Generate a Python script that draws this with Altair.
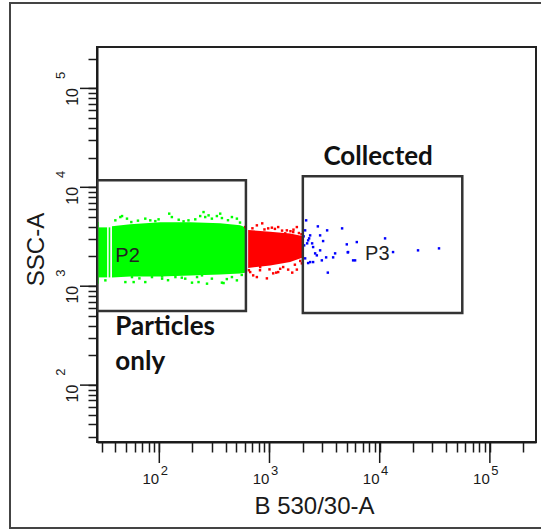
import altair as alt
import pandas as pd

# ---------------- axis / tick values ----------------
tick_values = [30, 40, 50, 60, 70, 80, 90,
               100, 200, 300, 400, 500, 600, 700, 800, 900,
               1000, 2000, 3000, 4000, 5000, 6000, 7000, 8000, 9000,
               10000, 20000, 30000, 40000, 50000, 60000, 70000, 80000, 90000,
               100000, 200000]
major_values = [100, 1000, 10000, 100000]
major_base = "10"
major_exponents = ["2", "3", "4", "5"]

x_domain = [27.2, 262144]
y_domain = [26.6, 262144]

# ---------------- dense cores (P2 green band, red band) ----------------
green_seg = ["a", "a", "b", "b", "c", "c",
             "d", "d", "d", "d", "d", "d", "d"]
green_x = [27.2, 28.1, 28.1, 33.6, 34.7, 35.9,
           37.2, 54.6, 102, 191, 357, 542, 601]
green_top = [4454, 4454, 3935, 3935, 3935, 3935,
             4027, 4220, 4422, 4422, 4320, 4124, 3935]
green_bot = [1061, 1061, 1228, 1228, 1228, 1228,
             1228, 1251, 1251, 1280, 1310, 1341, 1372]

red_x = [640, 1014, 1540, 2033]
red_top = [3700, 3560, 3420, 3192]
red_bot = [1530, 1620, 1760, 1957]

# ---------------- scattered events ----------------
green_pts_x = [44.3, 50.9, 74.6, 82.8, 98.5, 130, 166, 212, 252, 261, 280, 300,
               357, 370, 456, 506, 39.9, 55.7, 184, 45.9, 123, 235, 333,
               32.4, 41.3, 56.5, 74.6, 85.8, 106, 140, 172, 198, 220, 244, 300,
               370, 456, 506, 49.2, 271, 58.5, 227, 383, 106,
               64, 92, 150, 420, 540, 66, 120, 160, 410, 560]
green_pts_y = [5002, 4820, 4820, 4634, 4743, 5002, 4527, 4743, 5620, 5002, 5205, 4820,
               5415, 4887, 5002, 4820, 4634, 4454, 4634, 5120, 5415, 5120, 5120,
               1146, 1287, 1237, 1101, 1237, 1192, 1237, 1192, 1086, 1237, 1287, 1192,
               1086, 1237, 1146, 1101, 1061, 1101, 1101, 1076, 1258,
               4600, 4550, 4700, 4650, 4400, 1200, 1150, 1220, 1180, 1300]

red_pts_x = [768, 973, 1199, 1437, 1771, 668, 947, 711, 1199, 1477, 1771, 1080,
             823, 1966, 1331, 1641, 1389, 602, 859, 1150, 1608, 1051, 1650, 768,
             700, 900, 1120, 1300, 1550, 1850, 1950, 650, 820, 1000, 1250, 1700, 1900]
red_pts_y = [4124, 3844, 3963, 3670, 3963, 1390, 1200, 1287, 1390, 1472, 1472, 1349,
             1562, 1702, 1562, 3527, 3422, 3963, 4320, 1372, 1372, 3908, 3730, 1237,
             3850, 3750, 3800, 3650, 3600, 3450, 3350, 1450, 1450, 1480, 1500, 1650, 1800]

blue_pts_x = [2151, 2747, 3334, 4559, 5029, 6199, 11190, 13220, 22280, 34540,
              5135, 5981, 3780, 3940, 3383, 3266, 2880, 2596, 2338, 3066,
              2242, 2488, 2338, 2106, 2880, 2985, 2689, 2106, 2488, 2242,
              5739, 5167, 2196, 2289, 2063, 2437, 2041]
blue_pts_y = [4633, 4027, 3670, 3844, 2649, 2794, 3045, 2214, 2304, 2413,
              2199, 1825, 1957, 2148, 1372, 1957, 2304, 2148, 1754, 2860,
              2907, 2488, 3266, 3670, 3266, 1825, 2050, 1912, 1754, 1714,
              1825, 2214, 2712, 3045, 2588, 2712, 3192]

# ---------------- gates ----------------
gate_names = ["P2", "P3"]
gate_x1 = [27.2, 2007]
gate_x2 = [611, 56180]
gate_y1 = [563, 535]
gate_y2 = [11756, 12900]

# ---------------- annotation texts ----------------
label_text = ["P2", "P3"]
label_x = [39.9, 7372]
label_y = [1754, 1825]

note_text = ["Collected", "Particles", "only"]
note_x = [3086, 39.9, 39.9]
note_y = [16670, 318, 141]

# ---------------- build tables ----------------
band_df = pd.concat([
    pd.DataFrame({"x": green_x, "lo": green_bot, "hi": green_top,
                  "seg": green_seg, "pop": "P2"}),
    pd.DataFrame({"x": red_x, "lo": red_bot, "hi": red_top,
                  "seg": "r", "pop": "mid"}),
], ignore_index=True)

pts_df = pd.concat([
    pd.DataFrame({"x": green_pts_x, "y": green_pts_y, "pop": "P2"}),
    pd.DataFrame({"x": red_pts_x, "y": red_pts_y, "pop": "mid"}),
    pd.DataFrame({"x": blue_pts_x, "y": blue_pts_y, "pop": "P3"}),
], ignore_index=True)

gate_df = pd.DataFrame({"name": gate_names, "x1": gate_x1, "x2": gate_x2,
                        "y1": gate_y1, "y2": gate_y2})
label_df = pd.DataFrame({"t": label_text, "x": label_x, "y": label_y})
note_df = pd.DataFrame({"t": note_text, "x": note_x, "y": note_y})
major_df = pd.DataFrame({"v": major_values, "e": major_exponents})
frame_df = pd.DataFrame({"k": [0]})

pop_scale = alt.Scale(domain=["P2", "mid", "P3"],
                      range=["#00ff00", "#ff0000", "#0000ff"])

major_list = ",".join(str(v) for v in major_values)
label_expr = f"indexof([{major_list}], datum.value) >= 0 ? '{major_base}' : ''"

x_scale = alt.Scale(type="log", domain=x_domain, nice=False)
y_scale = alt.Scale(type="log", domain=y_domain, nice=False)

AX = "#1a1a1a"
x_axis = alt.Axis(
    values=tick_values, labelExpr=label_expr, grid=False,
    title="B 530/30-A", titleFont="Liberation Sans", titleFontSize=24,
    titleFontWeight="normal", titleColor=AX,
    titleX=217, titleY=71, titleAlign="center", titleBaseline="alphabetic",
    labelFont="Liberation Sans", labelFontSize=15, labelColor=AX,
    labelAlign="center", labelBaseline="alphabetic",
    labelOverlap=False, labelFlush=False, labelBound=False,
    labelPadding=31, labelOffset=-9,
    tickColor=AX, tickWidth=1.5, tickSize=10,
    domainColor=AX, domainWidth=2,
)
y_axis = alt.Axis(
    values=tick_values, labelExpr=label_expr, grid=False,
    title="SSC-A", titleFont="Liberation Sans", titleFontSize=24,
    titleFontWeight="normal", titleColor=AX, titleAngle=270,
    titleX=-54, titleY=202, titleAlign="center", titleBaseline="alphabetic",
    labelFont="Liberation Sans", labelFontSize=16, labelColor=AX,
    labelAngle=270, labelAlign="center", labelBaseline="alphabetic",
    labelOverlap=False, labelFlush=False, labelBound=False,
    labelPadding=11, labelOffset=8,
    tickColor=AX, tickWidth=1.5, tickSize=9,
    domainColor=AX, domainWidth=2,
)

X = alt.X("x:Q", scale=x_scale, axis=x_axis)
Y = alt.Y("y:Q", scale=y_scale, axis=y_axis)

outer = alt.Chart(frame_df).mark_rect(
    fill=None, stroke="#444", strokeWidth=2, clip=False
).encode(
    x=alt.value(-87), x2=alt.value(480), y=alt.value(-44), y2=alt.value(481)
)

bands = alt.Chart(band_df).mark_area(opacity=1).encode(
    x=alt.X("x:Q", scale=x_scale, axis=x_axis),
    y=alt.Y("lo:Q", scale=y_scale, axis=y_axis),
    y2="hi:Q",
    detail="seg:N",
    color=alt.Color("pop:N", scale=pop_scale, legend=None),
)

points = alt.Chart(pts_df).mark_square(size=6, opacity=1).encode(
    x=X, y=Y,
    color=alt.Color("pop:N", scale=pop_scale, legend=None),
)

gates = alt.Chart(gate_df).mark_rect(
    fill=None, stroke="#333", strokeWidth=2.5, clip=True
).encode(
    x=alt.X("x1:Q", scale=x_scale, axis=x_axis), x2="x2:Q",
    y=alt.Y("y1:Q", scale=y_scale, axis=y_axis), y2="y2:Q",
)

labels = alt.Chart(label_df).mark_text(
    font="Liberation Sans", fontSize=20, color="#222",
    align="left", baseline="alphabetic"
).encode(x=X, y=Y, text="t:N")

notes = alt.Chart(note_df).mark_text(
    font="Lato", fontSize=26, fontWeight="bold", color="#111",
    align="left", baseline="alphabetic", clip=False
).encode(x=X, y=Y, text="t:N")

# long major ticks and exponents of the decade labels
x_major = alt.Chart(major_df).mark_rule(color=AX, strokeWidth=1.5, clip=False).encode(
    x=alt.X("v:Q", scale=x_scale, axis=x_axis), y=alt.value(395), y2=alt.value(416)
)
y_major = alt.Chart(major_df).mark_rule(color=AX, strokeWidth=1.5, clip=False).encode(
    y=alt.Y("v:Q", scale=y_scale, axis=y_axis), x=alt.value(0), x2=alt.value(-17)
)
x_exp = alt.Chart(major_df).mark_text(
    font="Liberation Sans", fontSize=13, color=AX, align="center",
    baseline="alphabetic", clip=False
).encode(
    x=alt.X("v:Q", scale=x_scale, axis=x_axis), y=alt.value(428),
    xOffset=alt.value(5), text="e:N"
)
y_exp = alt.Chart(major_df).mark_text(
    font="Liberation Sans", fontSize=13, color=AX, align="center",
    baseline="alphabetic", angle=270, clip=False
).encode(
    y=alt.Y("v:Q", scale=y_scale, axis=y_axis), x=alt.value(-32),
    yOffset=alt.value(-13), text="e:N"
)

chart = alt.layer(
    outer, bands, points, gates, labels, notes, x_major, y_major, x_exp, y_exp
).properties(
    width=439, height=395,
    autosize=alt.AutoSizeParams(type="none"),
    padding={"left": 97, "top": 47, "right": 5, "bottom": 89},
    background="white",
).configure_view(stroke="#222", strokeWidth=2)

chart.save("out.html", embed_options={"renderer": "svg", "actions": False})
